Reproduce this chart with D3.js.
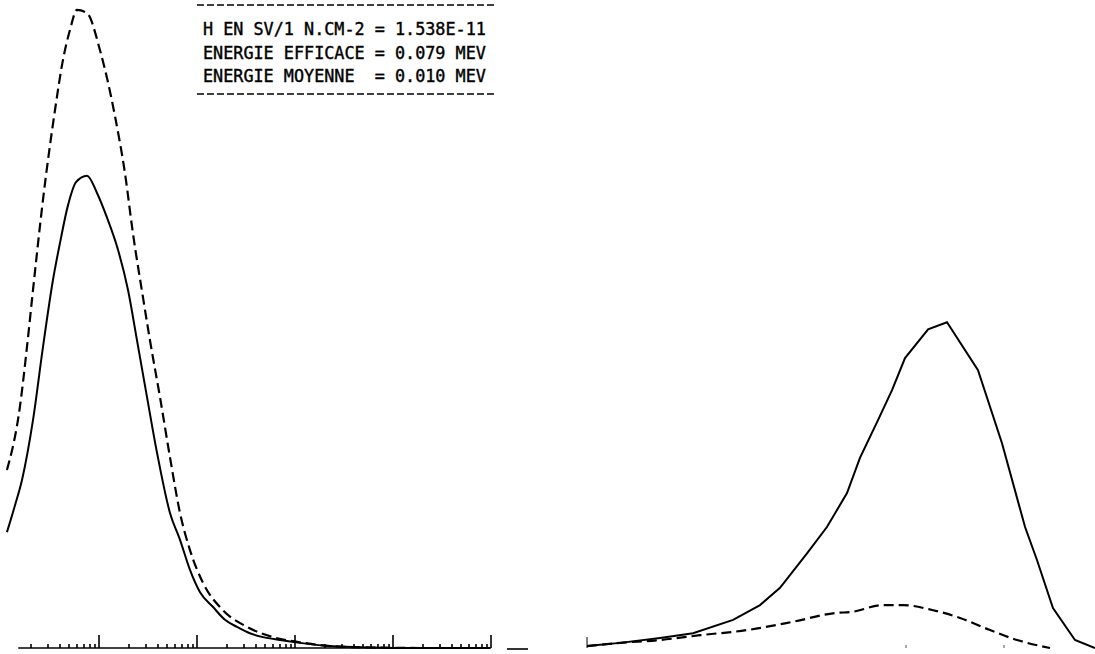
<!DOCTYPE html>
<html>
<head>
<meta charset="utf-8">
<script src="https://cdn.jsdelivr.net/npm/d3@7"></script>
<style>
  body { margin: 0; background: #fff; }
  svg { display: block; }
</style>
</head>
<body>
<svg width="1095" height="654"></svg>
<script>
// energies in MeV, values in arbitrary units
var leftSolidE = [0.00115, 0.00139, 0.00164, 0.00212, 0.00268, 0.00339, 0.0040, 0.00483, 0.00583, 0.00754,
    0.00954, 0.0121, 0.0153, 0.0198, 0.0244, 0.0309, 0.0391, 0.0530, 0.0671, 0.0848,
    0.107, 0.146, 0.193, 0.256, 0.347, 0.472, 0.703, 1.12, 2.28, 5.83, 18.9, 97.7];
var leftSolidY = [18.1, 22.3, 26.3, 35.6, 47.0, 57.5, 63.3, 69.2, 72.8, 73.8,
    71.1, 67.2, 62.7, 55.9, 48.1, 39.2, 30.5, 21.1, 16.9, 12.2,
    8.75, 6.4, 4.4, 3.3, 2.3, 1.7, 1.25, 0.8, 0.3, 0.08, 0, 0];

var leftDashE = [0.00115, 0.00156, 0.00184, 0.00212, 0.00268, 0.00356, 0.00429, 0.00506, 0.00596, 0.00754,
    0.01024, 0.0146, 0.0184, 0.0222, 0.0281, 0.0331, 0.0419, 0.0530, 0.0671, 0.0848,
    0.115, 0.184, 0.324, 0.596, 1.12, 2.28, 5.83, 18.9];
var leftDashY = [27.8, 37.7, 47.0, 55.9, 70.0, 84.1, 91.9, 96.6, 99.7, 99.2,
    93.4, 83.0, 74.2, 64.8, 54.8, 48.1, 39.2, 29.8, 21.1, 15.3,
    10.2, 5.9, 3.3, 1.7, 0.9, 0.3, 0.08, 0];

var rightSolidE = [0.000556, 0.00121, 0.00309, 0.00671, 0.0172, 0.0324, 0.0518, 0.0977, 0.156, 0.250,
    0.339, 0.518, 0.720, 0.977, 1.68, 2.62, 5.43, 9.54, 16.4, 21.7, 31.6, 53.0, 84.8];
var rightSolidY = [0.3, 0.8, 1.56, 2.3, 4.4, 6.7, 9.4, 14.8, 18.9, 24.2,
    29.7, 35.6, 40.3, 45.3, 49.8, 50.9, 43.4, 32.0, 18.9, 13.75, 6.25, 1.25, 0];

var rightDashE = [0.000556, 0.00121, 0.00309, 0.00791, 0.0239, 0.0703, 0.198, 0.268, 0.582, 0.931,
    1.89, 3.56, 7.20, 13.6, 29.5];
var rightDashY = [0.3, 0.8, 1.25, 2.0, 2.8, 4.1, 5.5, 5.6, 6.7, 6.7,
    5.9, 4.7, 2.8, 1.25, 0];

var decades = [0.01, 0.1, 1, 10, 100];
var rightDecades = [1, 10];

var infoLines = [
    "H EN SV/1 N.CM-2 = 1.538E-11",
    "ENERGIE EFFICACE = 0.079 MEV",
    "ENERGIE MOYENNE  = 0.010 MEV"
];

var svg = d3.select("svg");

var xLeft = d3.scaleLog().domain([0.001, 100]).range([1, 491]);
var xRight = d3.scaleLog().domain([0.001, 100]).range([612, 1102]);
var y = d3.scaleLinear().domain([0, 100]).range([648, 8]);

function pairs(es, vs) {
    return es.map(function(e, i) { return [e, vs[i]]; });
}

var lineLeft = d3.line()
    .curve(d3.curveMonotoneX)
    .x(function(d) { return xLeft(d[0]); })
    .y(function(d) { return y(d[1]); });

var lineRight = d3.line()
    .x(function(d) { return xRight(d[0]); })
    .y(function(d) { return y(d[1]); });

var lineRightSmooth = d3.line()
    .curve(d3.curveMonotoneX)
    .x(function(d) { return xRight(d[0]); })
    .y(function(d) { return y(d[1]); });

// left axis: baseline with log ticks
var base = y(0);
svg.append("line")
    .attr("x1", xLeft(0.0015))
    .attr("x2", xLeft(100))
    .attr("y1", base)
    .attr("y2", base)
    .attr("stroke", "#000")
    .attr("stroke-width", 1.6);

var minor = [];
[0.001, 0.01, 0.1, 1, 10].forEach(function(dec) {
    for (var k = 2; k <= 9; k++) minor.push(dec * k);
});

svg.selectAll(".minor")
    .data(minor)
    .enter().append("line")
    .attr("class", "minor")
    .attr("x1", function(d) { return Math.round(xLeft(d)); })
    .attr("x2", function(d) { return Math.round(xLeft(d)); })
    .attr("y1", base)
    .attr("y2", base - 4)
    .attr("stroke", "#000")
    .attr("stroke-width", 1.6);

svg.selectAll(".major")
    .data(decades)
    .enter().append("line")
    .attr("class", "major")
    .attr("x1", function(d) { return Math.round(xLeft(d)); })
    .attr("x2", function(d) { return Math.round(xLeft(d)); })
    .attr("y1", base)
    .attr("y2", base - 13)
    .attr("stroke", "#000")
    .attr("stroke-width", 1.6);

// small leftover piece of axis between the panels
svg.append("line")
    .attr("x1", 507).attr("x2", 528)
    .attr("y1", base + 1).attr("y2", base + 1)
    .attr("stroke", "#000")
    .attr("stroke-width", 1.6);

// right panel: start tick and faint decade marks
svg.append("line")
    .attr("x1", xRight(rightSolidE[0]))
    .attr("x2", xRight(rightSolidE[0]))
    .attr("y1", base)
    .attr("y2", base - 11)
    .attr("stroke", "#000")
    .attr("stroke-width", 1);

svg.selectAll(".rtick")
    .data(rightDecades)
    .enter().append("line")
    .attr("class", "rtick")
    .attr("x1", function(d) { return xRight(d); })
    .attr("x2", function(d) { return xRight(d); })
    .attr("y1", base)
    .attr("y2", base - 3)
    .attr("stroke", "#555")
    .attr("stroke-width", 1);

// curves
svg.append("path")
    .datum(pairs(leftSolidE, leftSolidY))
    .attr("d", lineLeft)
    .attr("fill", "none")
    .attr("stroke", "#000")
    .attr("stroke-width", 2);

svg.append("path")
    .datum(pairs(leftDashE, leftDashY))
    .attr("d", lineLeft)
    .attr("fill", "none")
    .attr("stroke", "#000")
    .attr("stroke-width", 2.2)
    .attr("stroke-dasharray", "10,5");

svg.append("path")
    .datum(pairs(rightSolidE, rightSolidY))
    .attr("d", lineRight)
    .attr("fill", "none")
    .attr("stroke", "#000")
    .attr("stroke-width", 2);

svg.append("path")
    .datum(pairs(rightDashE, rightDashY))
    .attr("d", lineRightSmooth)
    .attr("fill", "none")
    .attr("stroke", "#000")
    .attr("stroke-width", 2.2)
    .attr("stroke-dasharray", "10,5");

// info box
[5, 94].forEach(function(yy) {
    svg.append("line")
        .attr("x1", 197).attr("x2", 494)
        .attr("y1", yy).attr("y2", yy)
        .attr("stroke", "#000")
        .attr("stroke-width", 1.5)
        .attr("stroke-dasharray", "7,3");
});

svg.selectAll(".info")
    .data(infoLines)
    .enter().append("text")
    .attr("class", "info")
    .attr("x", 203)
    .attr("y", function(d, i) { return 35 + i * 23.5; })
    .attr("font-family", "DejaVu Sans Mono")
    .attr("font-size", 16.8)
    .attr("fill", "#000")
    .attr("stroke", "#000")
    .attr("stroke-width", 0.4)
    .attr("xml:space", "preserve")
    .style("white-space", "pre")
    .text(function(d) { return d; });
</script>
</body>
</html>
